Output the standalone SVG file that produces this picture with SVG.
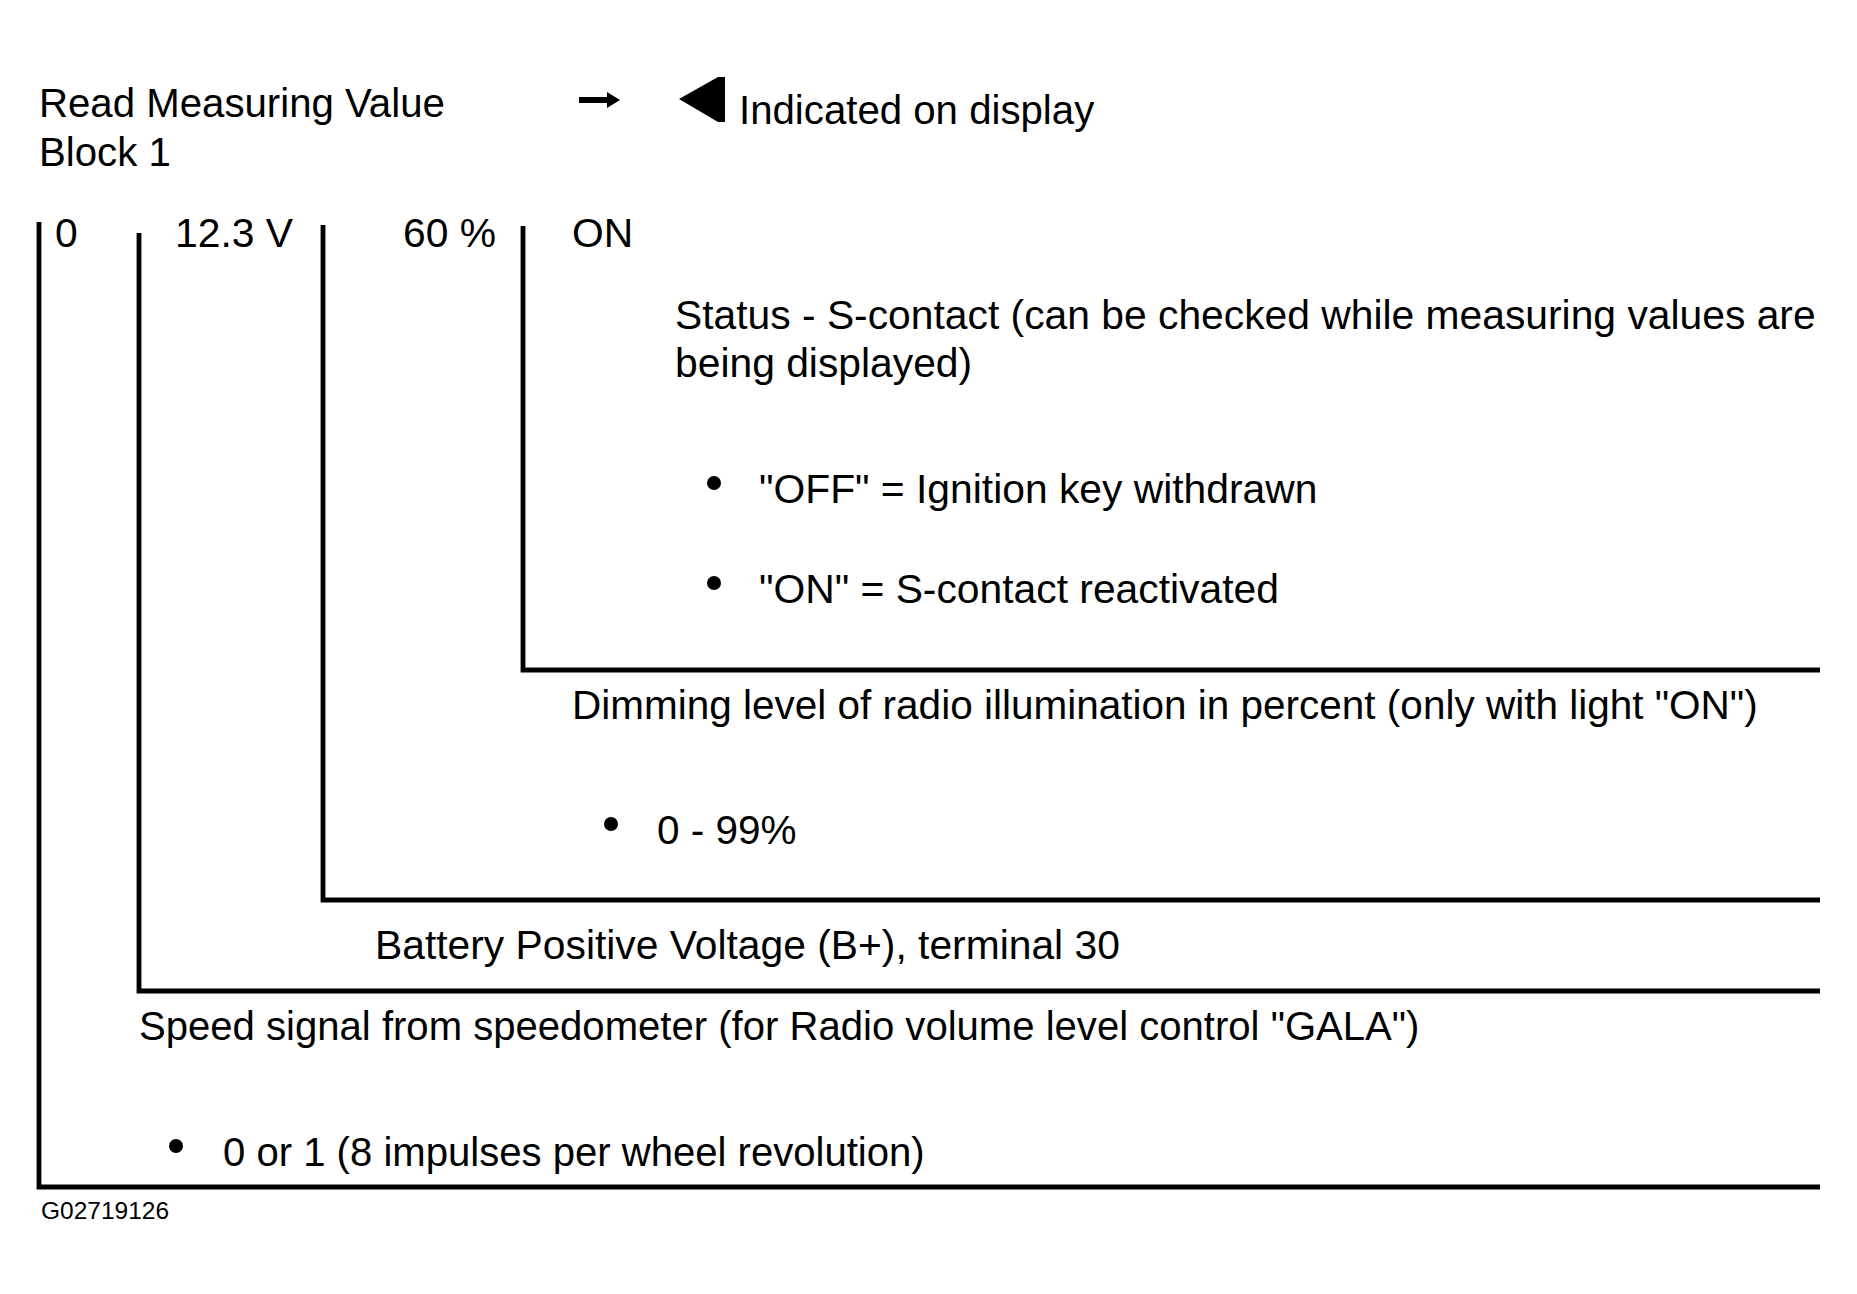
<svg xmlns="http://www.w3.org/2000/svg" width="1857" height="1294" viewBox="0 0 1857 1294">
<style>
text{font-family:"Liberation Sans",Arial,sans-serif;font-size:40.8px;fill:#000}
.hd{font-size:40.2px}
.s40{font-size:40.1px}
.s405{font-size:40.5px}
.small{font-size:24.5px}
.ln{fill:none;stroke:#000;stroke-width:4.8;stroke-linecap:butt}
</style>
<rect width="1857" height="1294" fill="#fff"/>
<g id="header">
<text class="hd" x="39" y="117">Read Measuring Value</text>
<text class="hd" x="39" y="166">Block 1</text>
<g id="arrow-symbol">
<rect x="579" y="97" width="30" height="6" fill="#000"/>
<polygon points="607,92 620,100 607,108" fill="#000"/>
</g>
<polygon id="display-symbol" points="679,99 718,77 725,77 725,122 718,122" fill="#000"/>
<text class="hd" x="739" y="124">Indicated on display</text>
</g>
<g id="values">
<text x="55" y="247">0</text>
<text x="175" y="247">12.3 V</text>
<text x="403" y="247">60 %</text>
<text x="572" y="247">ON</text>
</g>
<g id="connectors">
<polyline class="ln" points="39,222 39,1187 1820,1187"/>
<polyline class="ln" points="139,233 139,991 1820,991"/>
<polyline class="ln" points="323,225 323,900 1820,900"/>
<polyline class="ln" points="523,226 523,670 1820,670"/>
</g>
<g id="node-status">
<text x="675" y="329">Status - S-contact (can be checked while measuring values are</text>
<text x="675" y="377">being displayed)</text>
<circle cx="714" cy="483" r="7" fill="#000"/>
<text x="759" y="503">"OFF" = Ignition key withdrawn</text>
<circle cx="714" cy="583" r="7" fill="#000"/>
<text x="759" y="603">"ON" = S-contact reactivated</text>
</g>
<g id="node-dimming">
<text class="s405" x="572" y="719">Dimming level of radio illumination in percent (only with light "ON")</text>
<circle cx="611" cy="824" r="7" fill="#000"/>
<text class="s405" x="657" y="844">0 - 99%</text>
</g>
<g id="node-battery">
<text x="375" y="959">Battery Positive Voltage (B+), terminal 30</text>
</g>
<g id="node-speed">
<text class="s40" x="139" y="1040">Speed signal from speedometer (for Radio volume level control "GALA")</text>
<circle cx="176" cy="1146" r="7" fill="#000"/>
<text class="s40" x="223" y="1166">0 or 1 (8 impulses per wheel revolution)</text>
</g>
<text class="small" x="41" y="1219">G02719126</text>
</svg>
